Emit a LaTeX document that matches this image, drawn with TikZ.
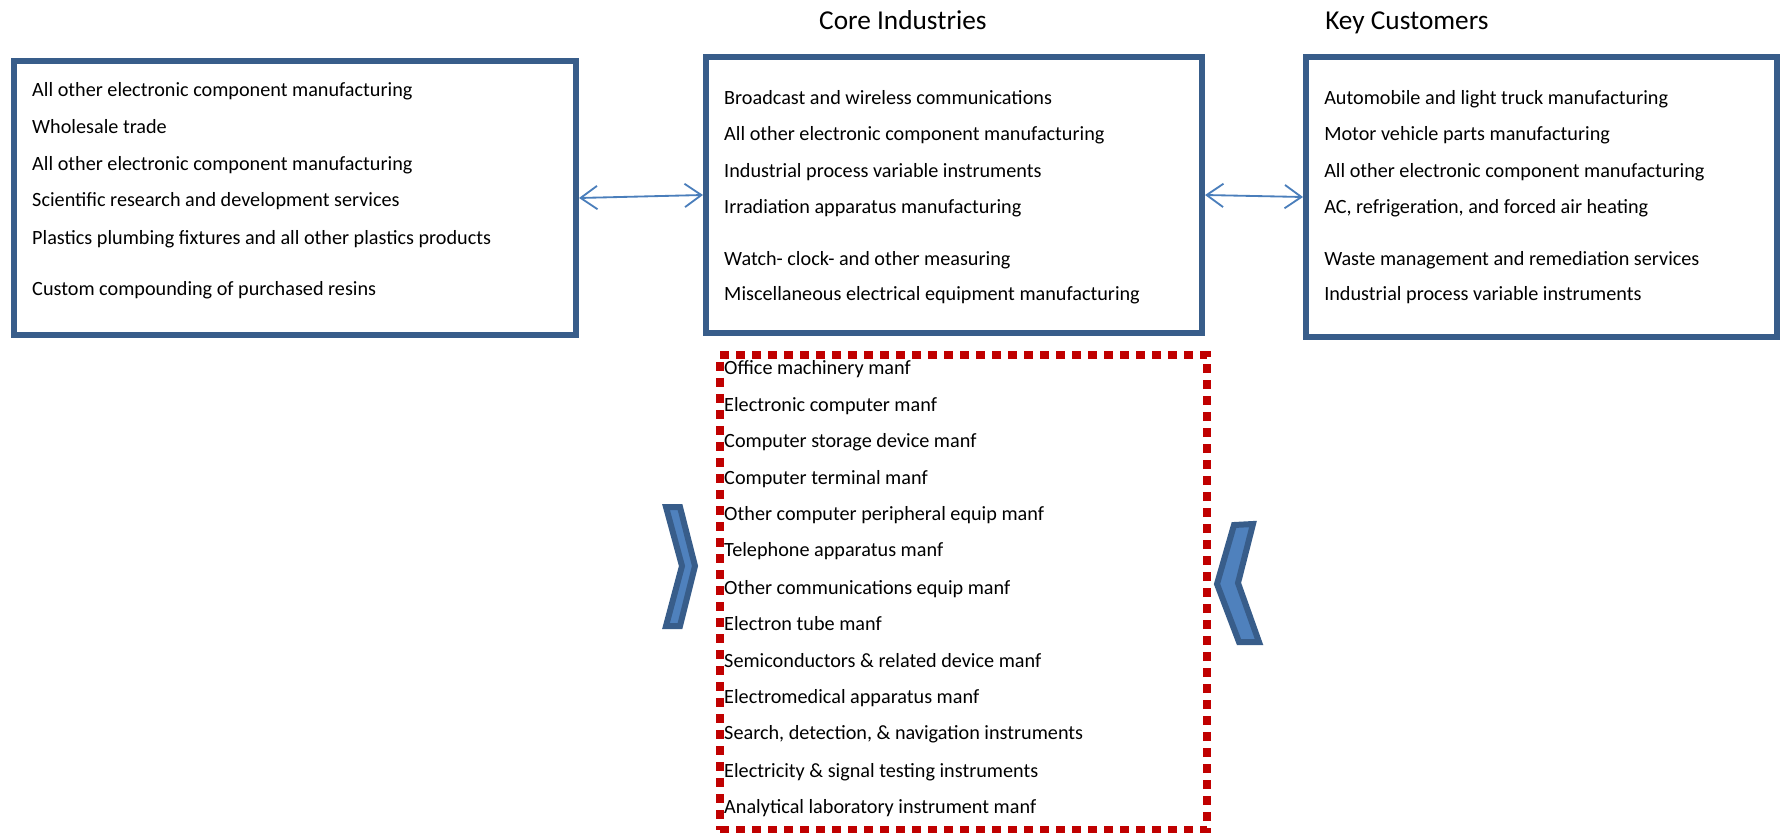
\documentclass[tikz,border=0pt]{standalone}
\usepackage{fontspec}
\setmainfont{Carlito}
\usetikzlibrary{arrows.meta,positioning}
\definecolor{boxblue}{RGB}{56,93,138}
\definecolor{arrowblue}{RGB}{74,126,187}
\definecolor{chevfill}{RGB}{79,129,189}
\definecolor{dotred}{RGB}{192,0,0}
\tikzset{
  panel/.style={draw=boxblue, line width=1.8mm},
  item/.style={anchor=west, inner sep=0pt, text height=0.72em, text depth=0.2em, font=\fontsize{17.25}{20}\selectfont},
  heading/.style={anchor=west, inner sep=0pt, text height=0.72em, text depth=0.2em, font=\fontsize{23.3}{27}\selectfont},
  link/.style={arrowblue, line width=0.55mm, {Straight Barb[length=5mm,width=7mm]}-{Straight Barb[length=5mm,width=7mm]}},
  chevron/.style={draw=boxblue, fill=chevfill, line width=1.8mm, line join=miter},
  dotbox/.style={draw=dotred, line width=2.4mm, dash pattern=on 2.7mm off 2.1mm},
}
\begin{document}
\begin{tikzpicture}[x=0.3mm, y=-0.3mm]
    \useasboundingbox (0,0) rectangle (1783,833);
    % the three boxes
    \node [panel, minimum width=168.6mm, minimum height=82.2mm](supply) at (295,198) {};
    \node [panel, minimum width=148.8mm, minimum height=82.8mm](core) at (954,195) {};
    \node [panel, minimum width=141.3mm, minimum height=84mm](cust) at (1541.5,197) {};
    \node [dotbox, minimum width=146.1mm, minimum height=142.5mm](extra) at (963.5,592.5) {};

    \node [heading](coretitle) at (819,26) {Core Industries};
    \node [heading](custtitle) at (1325,26) {Key Customers};

    % suppliers
    \node [item](s1) at (32,93) {All other electronic component manufacturing};
    \node [item](s2) at (32,130) {Wholesale trade};
    \node [item](s3) at (32,167) {All other electronic component manufacturing};
    \node [item](s4) at (32,203) {Scientific research and development services};
    \node [item](s5) at (32,241) {Plastics plumbing fixtures and all other plastics products};
    \node [item](s6) at (32,292) {Custom compounding of purchased resins};

    % core industries
    \node [item](c1) at (724,101) {Broadcast and wireless communications};
    \node [item](c2) at (724,137) {All other electronic component manufacturing};
    \node [item](c3) at (724,174) {Industrial process variable instruments};
    \node [item](c4) at (724,210) {Irradiation apparatus manufacturing};
    \node [item](c5) at (724,262) {Watch- clock- and other measuring};
    \node [item](c6) at (724,297) {Miscellaneous electrical equipment manufacturing};

    % key customers
    \node [item](k1) at (1324,101) {Automobile and light truck manufacturing};
    \node [item](k2) at (1324,137) {Motor vehicle parts manufacturing};
    \node [item](k3) at (1324,174) {All other electronic component manufacturing};
    \node [item](k4) at (1324,210) {AC, refrigeration, and forced air heating};
    \node [item](k5) at (1324,262) {Waste management and remediation services};
    \node [item](k6) at (1324,297) {Industrial process variable instruments};

    % dotted list
    \node [item](d1) at (724,371) {Office machinery manf};
    \node [item](d2) at (724,408) {Electronic computer manf};
    \node [item](d3) at (724,444) {Computer storage device manf};
    \node [item](d4) at (724,481) {Computer terminal manf};
    \node [item](d5) at (724,517) {Other computer peripheral equip manf};
    \node [item](d6) at (724,553) {Telephone apparatus manf};
    \node [item](d7) at (724,591) {Other communications equip manf};
    \node [item](d8) at (724,627) {Electron tube manf};
    \node [item](d9) at (724,664) {Semiconductors \& related device manf};
    \node [item](d10) at (724,700) {Electromedical apparatus manf};
    \node [item](d11) at (724,736) {Search, detection, \& navigation instruments};
    \node [item](d12) at (724,774) {Electricity \& signal testing instruments};
    \node [item](d13) at (724,810) {Analytical laboratory instrument manf};

    \draw [link] (supply.east) -- (core.west);
    \draw [link] (core.east) -- (cust.west);

    \draw [chevron] (666,507) -- (680,507) -- (695,566) -- (680,626) -- (666,626) -- (682,566) -- cycle;
    \draw [chevron] (1234,525) -- (1253,524) -- (1238,583) -- (1259,642) -- (1239,642) -- (1217,584) -- cycle;
\end{tikzpicture}
\end{document}
